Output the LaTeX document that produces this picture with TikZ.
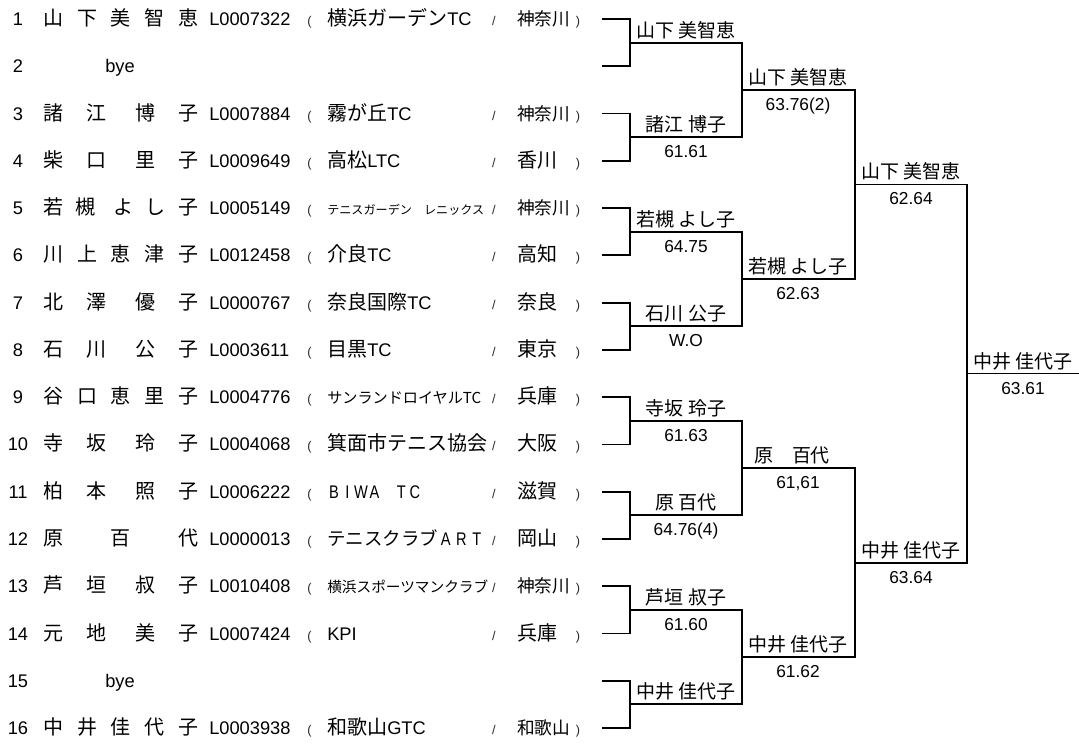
\documentclass[tikz,border=0pt]{standalone}
\usepackage{graphicx}
\usepackage{fontspec}
\setmainfont{Liberation Sans}
\newfontfamily\jp{Noto Sans CJK JP}[Scale=1.095]
\usetikzlibrary{positioning,calc}
\newcommand{\spf}[1]{{\fontsize{12.1}{14}\selectfont\jp #1}}
\newcommand{\fitclub}[2]{\resizebox{#1}{!}{\jp #2}}
\newcommand{\wl}[2][10.1pt]{\makebox[#1]{\scalebox{0.8}[1]{#2}}}
\newcommand{\jc}[1]{\makebox[15pt]{\jp #1}}

\begin{document}
\begin{tikzpicture}[x=0.75pt,y=-0.75pt,
    rowtxt/.style={anchor=base west,inner sep=0pt,font=\fontsize{13.7}{16}\selectfont},
    rownum/.style={anchor=base,inner sep=0pt,font=\fontsize{13.7}{16}\selectfont},
    paren/.style={anchor=base,inner sep=0pt,text=black!85,font=\fontsize{9.5}{11}\selectfont},
    wname/.style={anchor=base,inner sep=0pt,xshift=42pt,yshift=4.1pt,font=\jp\fontsize{13}{15}\selectfont},
    wscore/.style={anchor=base,inner sep=0pt,xshift=42pt,yshift=-15.4pt,font=\fontsize{13}{15}\selectfont},
    bline/.style={line width=1.4pt}]
  \useasboundingbox (0,0) rectangle (1079,744);
  %insert players
  \foreach \i/\nm/\id/\cl/\pf in {
    1/{山\hfill 下\hfill 美\hfill 智\hfill 恵}/L0007322/{\jc{横}\jc{浜}\jc{ガ}\jc{ー}\jc{デ}\jc{ン}TC}/{\spf{神奈川}},
    3/{諸\hfill 江\hfill\kern4pt 博\hfill 子}/L0007884/{{\jp 霧が丘}TC}/{\spf{神奈川}},
    4/{柴\hfill 口\hfill\kern4pt 里\hfill 子}/L0009649/{{\jp 高松}LTC}/{\jp 香川},
    5/{若\hfill 槻\hfill\kern4pt よ\hfill し\hfill 子}/L0005149/{\fitclub{117.75pt}{テニスガーデン　レニックス}}/{\spf{神奈川}},
    6/{川\hfill 上\hfill 恵\hfill 津\hfill 子}/L0012458/{{\jp 介良}TC}/{\jp 高知},
    7/{北\hfill 澤\hfill\kern4pt 優\hfill 子}/L0000767/{{\jp 奈良国際}TC}/{\jp 奈良},
    8/{石\hfill 川\hfill\kern4pt 公\hfill 子}/L0003611/{{\jp 目黒}TC}/{\jp 東京},
    9/{谷\hfill 口\hfill 恵\hfill 里\hfill 子}/L0004776/{\fitclub{115.5pt}{サンランドロイヤルTC}}/{\jp 兵庫},
    10/{寺\hfill 坂\hfill\kern4pt 玲\hfill 子}/L0004068/{\jp 箕面市テニス協会}/{\jp 大阪},
    11/{柏\hfill 本\hfill\kern4pt 照\hfill 子}/L0006222/{\wl{B}\wl{I}\wl{W}\wl{A}\wl{}\wl{T}\wl{C}}/{\jp 滋賀},
    12/{原\hfill 百\hfill 代}/L0000013/{\resizebox{83pt}{!}{\jp テニスクラブ}\wl[11.7pt]{A}\wl[11.7pt]{R}\wl[11.7pt]{T}}/{\jp 岡山},
    13/{芦\hfill 垣\hfill\kern4pt 叔\hfill 子}/L0010408/{\fitclub{120.75pt}{横浜スポーツマンクラブ}}/{\spf{神奈川}},
    14/{元\hfill 地\hfill\kern4pt 美\hfill 子}/L0007424/{KPI}/{\jp 兵庫},
    16/{中\hfill 井\hfill 佳\hfill 代\hfill 子}/L0003938/{{\jp 和歌山}GTC}/{\spf{和歌山}}}{
    \pgfmathsetmacro\ry{19+(\i-1)*47.27}
    \node[rownum] (n\i) at (18,\ry+6.5) {\i};
    \node[rowtxt] (nm\i) at (43,\ry+6.5) {\makebox[116.25pt][s]{\jp\nm}};
    \node[rowtxt] (id\i) at (209,\ry+6.5) {\id};
    \node[paren] (lp\i) at (309.5,\ry+6.5) {(};
    \node[rowtxt] (cl\i) at (327,\ry+6.5) {\cl};
    \node[paren] (sl\i) at (494,\ry+6.5) {/};
    \node[rowtxt] (pf\i) at (517,\ry+6.5) {\pf};
    \node[paren] (rp\i) at (578,\ry+6.5) {)};
  }
  %insert byes
  \foreach \i in {2,15}{
    \pgfmathsetmacro\ry{19+(\i-1)*47.27}
    \node[rownum] (n\i) at (18,\ry+6.5) {\i};
    \node[rowtxt] (bye\i) at (105,\ry+6.5) {bye};
  }
  %bracket points
  \foreach \i in {1,...,16}
    \coordinate (e\i) at (602,{19+(\i-1)*47.27});
  \foreach \j in {1,...,8}
    \coordinate (m\j) at (630,{19+(2*\j-1.5)*47.27});
  \foreach \k in {1,...,4}
    \coordinate (q\k) at (742,{19+(4*\k-2.5)*47.27});
  \foreach \l in {1,2}
    \coordinate (s\l) at (855,{19+(8*\l-4.5)*47.27});
  \coordinate (f) at (967,{19+7.5*47.27});
  \coordinate (champ) at (1079,{19+7.5*47.27});
  %draw brackets
  \foreach \j [evaluate=\j as \a using int(2*\j-1), evaluate=\j as \b using int(2*\j)] in {1,...,8}
    \draw[bline] (e\a) -| (m\j) |- (e\b);
  \foreach \k [evaluate=\k as \a using int(2*\k-1), evaluate=\k as \b using int(2*\k)] in {1,...,4}
    \draw[bline] (m\a) -| (q\k) |- (m\b);
  \foreach \l [evaluate=\l as \a using int(2*\l-1), evaluate=\l as \b using int(2*\l)] in {1,2}
    \draw[bline] (q\a) -| (s\l) |- (q\b);
  \draw[bline] (s1) -| (f) |- (s2);
  \draw[bline] (f) -- (champ);
  %insert winners
  \foreach \j/\nm in {1/山下 美智恵,2/諸江 博子,3/若槻 よし子,4/石川 公子,5/寺坂 玲子,6/原 百代,7/芦垣 叔子,8/中井 佳代子}
    \node[wname] (mn\j) at (m\j) {\nm};
  \foreach \j/\sc in {2/61.61,3/64.75,4/W.O,5/61.63,6/64.76(4),7/61.60}
    \node[wscore] (ms\j) at (m\j) {\sc};
  \foreach \k/\nm/\sc in {1/山下 美智恵/63.76(2),2/若槻 よし子/62.63,4/中井 佳代子/61.62}{
    \node[wname] (qn\k) at (q\k) {\nm};
    \node[wscore] (qs\k) at (q\k) {\sc};
  }
  \node[wname,xshift=-4.5pt] (qn3) at (q3) {原　百代};
  \node[wscore] (qs3) at (q3) {61,61};
  \node[wname] (sn1) at (s1) {山下 美智恵};
  \node[wscore] (ss1) at (s1) {62.64};
  \node[wname] (sn2) at (s2) {中井 佳代子};
  \node[wscore] (ss2) at (s2) {63.64};
  \node[wname] (fn) at (f) {中井 佳代子};
  \node[wscore] (fs) at (f) {63.61};
\end{tikzpicture}
\end{document}
